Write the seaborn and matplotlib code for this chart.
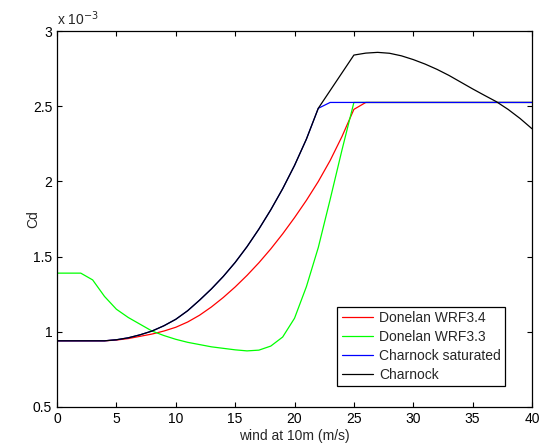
import numpy as np
import pandas as pd
import matplotlib
matplotlib.use("Agg")
import matplotlib.pyplot as plt
from matplotlib.ticker import FuncFormatter
import seaborn as sns

# wind speed at 10 m (m/s), 1 m/s steps
wind = list(range(0, 41))

# drag coefficients, in units of 1e-3
donelan_34 = [0.94, 0.94, 0.94, 0.94, 0.94, 0.945, 0.955, 0.97, 0.985, 1.005,
              1.03, 1.065, 1.11, 1.165, 1.228, 1.298, 1.375, 1.459, 1.551, 1.651,
              1.759, 1.874, 1.999, 2.139, 2.299, 2.479] + [2.525] * 15
donelan_33 = [1.39, 1.39, 1.39, 1.345, 1.235, 1.15, 1.095, 1.05, 1.005, 0.975,
              0.95, 0.93, 0.915, 0.90, 0.89, 0.88, 0.873, 0.878, 0.905, 0.965,
              1.09, 1.30, 1.56, 1.88, 2.21, 2.525] + [2.525] * 15
charnock_low = [0.94, 0.94, 0.94, 0.94, 0.94, 0.947, 0.96, 0.98, 1.005, 1.04,
                1.083, 1.14, 1.21, 1.285, 1.368, 1.461, 1.566, 1.683, 1.811, 1.951,
                2.106, 2.281, 2.486]
charnock_sat = charnock_low + [2.525] * 18
charnock = charnock_low + [2.604, 2.722, 2.84, 2.853, 2.858, 2.852, 2.835, 2.81,
                           2.78, 2.745, 2.705, 2.66, 2.615, 2.572, 2.53, 2.478,
                           2.418, 2.35]

series = ["Donelan WRF3.4", "Donelan WRF3.3", "Charnock saturated", "Charnock"]
values = [donelan_34, donelan_33, charnock_sat, charnock]
colors = ["#ff0000", "#00ff00", "#0000ff", "#000000"]

df = pd.concat([pd.DataFrame({"wind": wind, "cd": v, "scheme": s})
                for s, v in zip(series, values)], ignore_index=True)

sns.set_style("ticks")
plt.rcParams["font.family"] = ["Liberation Sans", "DejaVu Sans"]
plt.rcParams["font.size"] = 10

fig = plt.figure(figsize=(5.41, 4.43), dpi=100)
ax = fig.add_axes([0.1054, 0.0813, 0.8780, 0.8487])

sns.lineplot(data=df, x="wind", y="cd", hue="scheme", hue_order=series,
             palette=dict(zip(series, colors)), estimator=None, sort=False,
             linewidth=0.9, ax=ax)

ax.set_xlim(0, 40)
ax.set_ylim(0.5, 3)
ax.set_xticks(np.arange(0, 41, 5))
ax.set_yticks(np.arange(0.5, 3.01, 0.5))
ax.yaxis.set_major_formatter(FuncFormatter(lambda v, p: f"{v:g}"))
ax.tick_params(direction="in", top=True, right=True, length=3.5, width=0.8,
               labelsize=10, colors="black")
for sp in ax.spines.values():
    sp.set_visible(True)
    sp.set_linewidth(0.9)
    sp.set_color("black")

ax.set_xlabel("wind at 10m (m/s)", fontsize=10, labelpad=2)
ax.set_ylabel("Cd", fontsize=10)
ax.yaxis.set_label_coords(-0.035, 0.5)
ax.text(0.0, 1.008, r"x 10$^{-3}$", transform=ax.transAxes, fontsize=10,
        ha="left", va="bottom")

leg = ax.legend(loc="lower right", bbox_to_anchor=(0.943, 0.056),
                borderaxespad=0, fancybox=False, edgecolor="black",
                framealpha=1, handlelength=2.3, handletextpad=0.4,
                labelspacing=0.35, borderpad=0.3, fontsize=10)
leg.get_frame().set_linewidth(0.9)

fig.savefig("out.png", dpi=100)
